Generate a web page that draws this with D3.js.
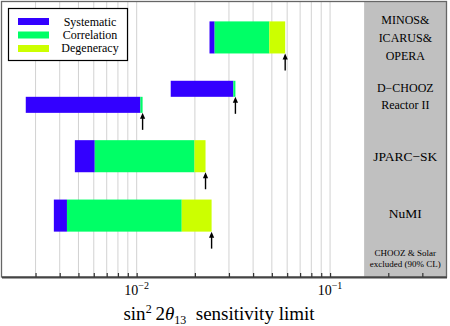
<!DOCTYPE html>
<html>
<head>
<meta charset="utf-8">
<script src="https://cdn.jsdelivr.net/npm/d3@7"></script>
<style>
  body { margin: 0; background: #fff; }
  svg text { font-family: 'Liberation Serif', 'Times New Roman', 'DejaVu Serif', serif; }
</style>
</head>
<body>
<svg width="450" height="326"></svg>
<script>
// data
let experiments = ['MINOS&ICARUS&OPERA', 'D-CHOOZ', 'Reactor II', 'JPARC-SK', 'NuMI']
let rowOf = [0, 1, 1, 2, 3]
let slot = ['full', 'upper', 'lower', 'full', 'full']
let startVal = [0.0238, 0.0150, 0.00267, 0.00479, 0.00373]
let systEnd = [0.0253, 0.0316, 0.01045, 0.00607, 0.00436]
let corrEnd = [0.0485, 0.0324, 0.01073, 0.0199, 0.0171]
let degEnd = [0.0586, 0.0324, 0.01073, 0.0227, 0.0244]
let legendNames = ['Systematic', 'Correlation', 'Degeneracy']
let colors = ['#3300ff', '#00ff66', '#ccff00']
let gridValues = [0.003, 0.004, 0.005, 0.006, 0.007, 0.008, 0.009,
                  0.01, 0.02, 0.03, 0.04, 0.05, 0.06, 0.07, 0.08, 0.09,
                  0.1, 0.2, 0.3]
let labelTicks = [[0.01, '\u22122'], [0.1, '\u22121']]
let excludedFrom = 0.15

let plotLeft = 1.5, plotRight = 446.5, plotTop = 1.5, plotBottom = 277

let xScale = d3.scaleLog()
               .domain([0.002, 0.4])
               .range([plotLeft, plotRight])

let yScale = d3.scaleLinear()
               .domain([-0.605, 4.034])
               .range([plotTop, plotBottom])

let half = 0.27
let svg = d3.select('svg')
    .attr('font-family', "'Liberation Serif', 'Times New Roman', serif")

// gridlines
svg.append('g')
  .selectAll('line')
  .data(gridValues)
  .enter()
  .append('line')
    .attr('x1', d => xScale(d))
    .attr('x2', d => xScale(d))
    .attr('y1', plotTop)
    .attr('y2', plotBottom)
    .attr('stroke', '#d2d2d2')
    .attr('stroke-width', 1)

// excluded region
svg.append('rect')
    .attr('x', xScale(excludedFrom))
    .attr('y', plotTop)
    .attr('width', plotRight - xScale(excludedFrom))
    .attr('height', plotBottom - plotTop)
    .attr('fill', '#c0c0c0')

// bars
let rows = experiments.map((e, i) => {
  let c = rowOf[i]
  let y0 = slot[i] === 'lower' ? c : c - half
  let y1 = slot[i] === 'upper' ? c : c + half
  return { name: e, y0, y1, segs: [[startVal[i], systEnd[i]], [systEnd[i], corrEnd[i]], [corrEnd[i], degEnd[i]]], limit: degEnd[i] }
})

rows.forEach(r => {
  svg.append('g')
    .selectAll('rect')
    .data(r.segs)
    .enter()
    .append('rect')
      .attr('x', d => xScale(d[0]))
      .attr('width', d => Math.max(0, xScale(d[1]) - xScale(d[0])))
      .attr('y', yScale(r.y0))
      .attr('height', yScale(r.y1) - yScale(r.y0))
      .attr('fill', (d, i) => colors[i])

  // arrow marking the limit
  let ax = xScale(r.limit)
  let ay = yScale(r.y1)
  svg.append('line')
      .attr('x1', ax).attr('x2', ax)
      .attr('y1', ay + 3).attr('y2', ay + 17)
      .attr('stroke', '#000')
      .attr('stroke-width', 1.4)
  svg.append('path')
      .attr('d', `M${ax},${ay} L${ax - 2.6},${ay + 6} L${ax + 2.6},${ay + 6} Z`)
      .attr('fill', '#000')
})

// frame
svg.append('rect')
    .attr('x', plotLeft)
    .attr('y', plotTop)
    .attr('width', plotRight - plotLeft)
    .attr('height', plotBottom - plotTop)
    .attr('fill', 'none')
    .attr('stroke', '#666')
    .attr('stroke-width', 1.3)

// bottom axis
let xAxis = d3.axisBottom(xScale)
              .tickValues(gridValues)
              .tickSize(-4)
              .tickSizeOuter(0)
              .tickFormat('')

let axisG = svg.append('g')
    .attr('transform', `translate(0, ${plotBottom})`)
    .call(xAxis)
axisG.select('.domain').attr('stroke', '#444').attr('stroke-width', 2)
axisG.selectAll('.tick line').attr('stroke', '#333').attr('stroke-width', 1.2)

labelTicks.forEach(([v, exp]) => {
  let t = svg.append('text')
      .attr('x', xScale(v))
      .attr('y', 295)
      .attr('text-anchor', 'middle')
      .style('font-size', '14px')
  t.append('tspan').text('10')
  t.append('tspan').attr('dy', -6).style('font-size', '10px').text(exp)
})

// axis title
let title = svg.append('text')
    .attr('x', 219)
    .attr('y', 320)
    .attr('text-anchor', 'middle')
    .style('font-size', '19px')
title.append('tspan').text('sin')
title.append('tspan').attr('dy', -7).style('font-size', '12px').text('2')
title.append('tspan').attr('dy', 7).text('\u20092')
title.append('tspan').style('font-style', 'italic').text('\u03b8')
title.append('tspan').attr('dy', 4).style('font-size', '12px').text('13')
title.append('tspan').attr('dy', -4).text('\u2002sensitivity limit')

// labels in the grey panel
let px = (xScale(excludedFrom) + plotRight) / 2
let panelLabels = [
  ['MINOS&', yScale(0) - 18, 12],
  ['ICARUS&', yScale(0), 12],
  ['OPERA', yScale(0) + 18, 12],
  ['D\u2212CHOOZ', yScale(1) - 9, 12],
  ['Reactor II', yScale(1) + 8, 12],
  ['JPARC\u2212SK', yScale(2), 13.5],
  ['NuMI', yScale(3) - 2, 13.5],
  ['CHOOZ & Solar', 253, 9],
  ['excluded (90% CL)', 264, 9]
]
svg.append('g')
  .selectAll('text')
  .data(panelLabels)
  .enter()
  .append('text')
    .attr('x', px)
    .attr('y', d => d[1])
    .attr('dy', '0.35em')
    .attr('text-anchor', 'middle')
    .style('font-size', d => d[2] + 'px')
    .text(d => d[0])

// legend
let legend = svg.append('g')
legend.append('rect')
    .attr('x', 8.5).attr('y', 8.5)
    .attr('width', 119).attr('height', 52)
    .attr('fill', '#fff')
    .attr('stroke', '#000')
    .attr('stroke-width', 1.2)
legendNames.forEach((n, i) => {
  legend.append('rect')
      .attr('x', 18).attr('y', 18 + i * 13.5)
      .attr('width', 31).attr('height', 7)
      .attr('fill', colors[i])
  legend.append('text')
      .attr('x', 90).attr('y', 21.5 + i * 13.3)
      .attr('dy', '0.35em')
      .attr('text-anchor', 'middle')
      .style('font-size', '12px')
      .text(n)
})
</script>
</body>
</html>
